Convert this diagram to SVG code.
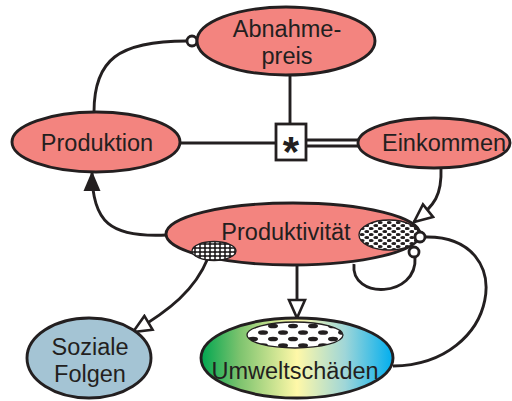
<svg xmlns="http://www.w3.org/2000/svg" width="512" height="401" viewBox="0 0 512 401">
<style>
.n{fill:#f3847f;stroke:#231f20;stroke-width:2.9}
.t{font-family:"Liberation Sans",Arial,sans-serif;font-size:23.5px;fill:#231f20;text-anchor:middle}
.c{fill:none;stroke:#231f20;stroke-width:2.9}
.h{stroke:#231f20;stroke-width:1.3}
.o{fill:#fff;stroke:#231f20;stroke-width:2.8}
</style>
<defs>
<linearGradient id="ug" x1="0" y1="0" x2="1" y2="0">
<stop offset="0" stop-color="#00a650"/>
<stop offset="0.2" stop-color="#7cc36e"/>
<stop offset="0.5" stop-color="#fff8a8"/>
<stop offset="0.75" stop-color="#9fd6d8"/>
<stop offset="1" stop-color="#00aeef"/>
</linearGradient>
<pattern id="dots" width="9" height="6" patternUnits="userSpaceOnUse" x="360" y="221">
<rect width="9" height="6" fill="#fff"/>
<ellipse cx="2.25" cy="1.5" rx="2.4" ry="1.5" fill="#231f20"/>
<ellipse cx="6.75" cy="4.5" rx="2.4" ry="1.5" fill="#231f20"/>
</pattern>
<pattern id="bigdots" width="20" height="13" patternUnits="userSpaceOnUse" x="248" y="323">
<rect width="20" height="13" fill="#fff"/>
<ellipse cx="5" cy="3" rx="5" ry="2.3" fill="#231f20"/>
<ellipse cx="15" cy="9.5" rx="5" ry="2.3" fill="#231f20"/>
</pattern>
<pattern id="grid" width="5" height="4" patternUnits="userSpaceOnUse">
<rect width="5" height="4" fill="#231f20"/>
<rect x="0.7" y="0.7" width="3.6" height="2.6" rx="1" fill="#fff"/>
</pattern>
<marker id="openbig" markerWidth="22" markerHeight="20" refX="20" refY="10" orient="auto" markerUnits="userSpaceOnUse" viewBox="0 0 22 20">
<path d="M2,2 L20,10 L2,18 Z" fill="#fff" stroke="#231f20" stroke-width="2.6"/>
</marker>
<marker id="filled" markerWidth="22" markerHeight="20" refX="20" refY="10" orient="auto" markerUnits="userSpaceOnUse" viewBox="0 0 22 20">
<path d="M1,1.5 L21,10 L1,18.5 Z" fill="#231f20"/>
</marker>
</defs>

<g id="connectors">
<path class="c" d="M94 112 C94 60 118 41 187 41"/>
<circle class="o" cx="192" cy="41" r="5"/>
<line class="c" x1="290" y1="75" x2="290" y2="125"/>
<line class="c" x1="180" y1="143" x2="276" y2="143"/>
<line class="c" x1="306" y1="140" x2="358" y2="140"/>
<line class="c" x1="306" y1="146" x2="358" y2="146"/>
<path class="c" d="M441 168 C442 195 435 205 414 222" marker-end="url(#openbig)"/>
<path class="c" d="M167 235 C110 238 92 222 92 172" marker-end="url(#filled)"/>
<path class="c" d="M208 258 C195 290 170 310 133 332" marker-end="url(#openbig)"/>
<line class="c" x1="297" y1="265" x2="297" y2="318" marker-end="url(#openbig)"/>
<path class="c" d="M393 366 C500 365 520 235 425 237"/>
<path class="c" d="M354 264 C350 300 418 298 415 257"/>
</g>

<g id="box">
<rect x="276" y="124" width="30" height="36" fill="#fff" stroke="#231f20" stroke-width="2.8"/>
<text x="291" y="166" style="font-family:'Liberation Sans',Arial,sans-serif;font-size:42px;font-weight:bold;fill:#231f20;text-anchor:middle">*</text>
</g>

<g id="abnahmepreis">
<ellipse class="n" cx="286" cy="41" rx="89" ry="34"/>
<text class="t" x="287" y="37">Abnahme-</text>
<text class="t" x="287" y="64">preis</text>
</g>

<g id="produktion">
<ellipse class="n" cx="96" cy="142" rx="84" ry="30"/>
<text class="t" x="97" y="151">Produktion</text>
</g>

<g id="einkommen">
<ellipse class="n" cx="434" cy="143" rx="76" ry="25"/>
<text class="t" x="444" y="151">Einkommen</text>
</g>

<g id="produktivitaet">
<ellipse class="n" cx="293" cy="234" rx="127" ry="31"/>
<text class="t" x="286" y="240">Produktivität</text>
<ellipse cx="214" cy="251" rx="22" ry="9.5" fill="url(#grid)" class="h"/>
<ellipse cx="389" cy="235" rx="30" ry="15" fill="url(#dots)" class="h"/>
<circle class="o" cx="420" cy="237" r="5"/>
<circle class="o" cx="414" cy="252" r="5"/>
</g>

<g id="soziale-folgen">
<ellipse cx="89" cy="358" rx="62" ry="40" fill="#a4c4d4" stroke="#231f20" stroke-width="2.9"/>
<text class="t" x="90" y="355">Soziale</text>
<text class="t" x="90" y="382">Folgen</text>
</g>

<g id="umweltschaeden">
<ellipse cx="297" cy="358" rx="96" ry="40" fill="url(#ug)" stroke="#231f20" stroke-width="2.9"/>
<ellipse cx="295" cy="335" rx="48" ry="13" fill="url(#bigdots)" class="h"/>
<text class="t" x="295" y="379">Umweltschäden</text>
</g>
</svg>
